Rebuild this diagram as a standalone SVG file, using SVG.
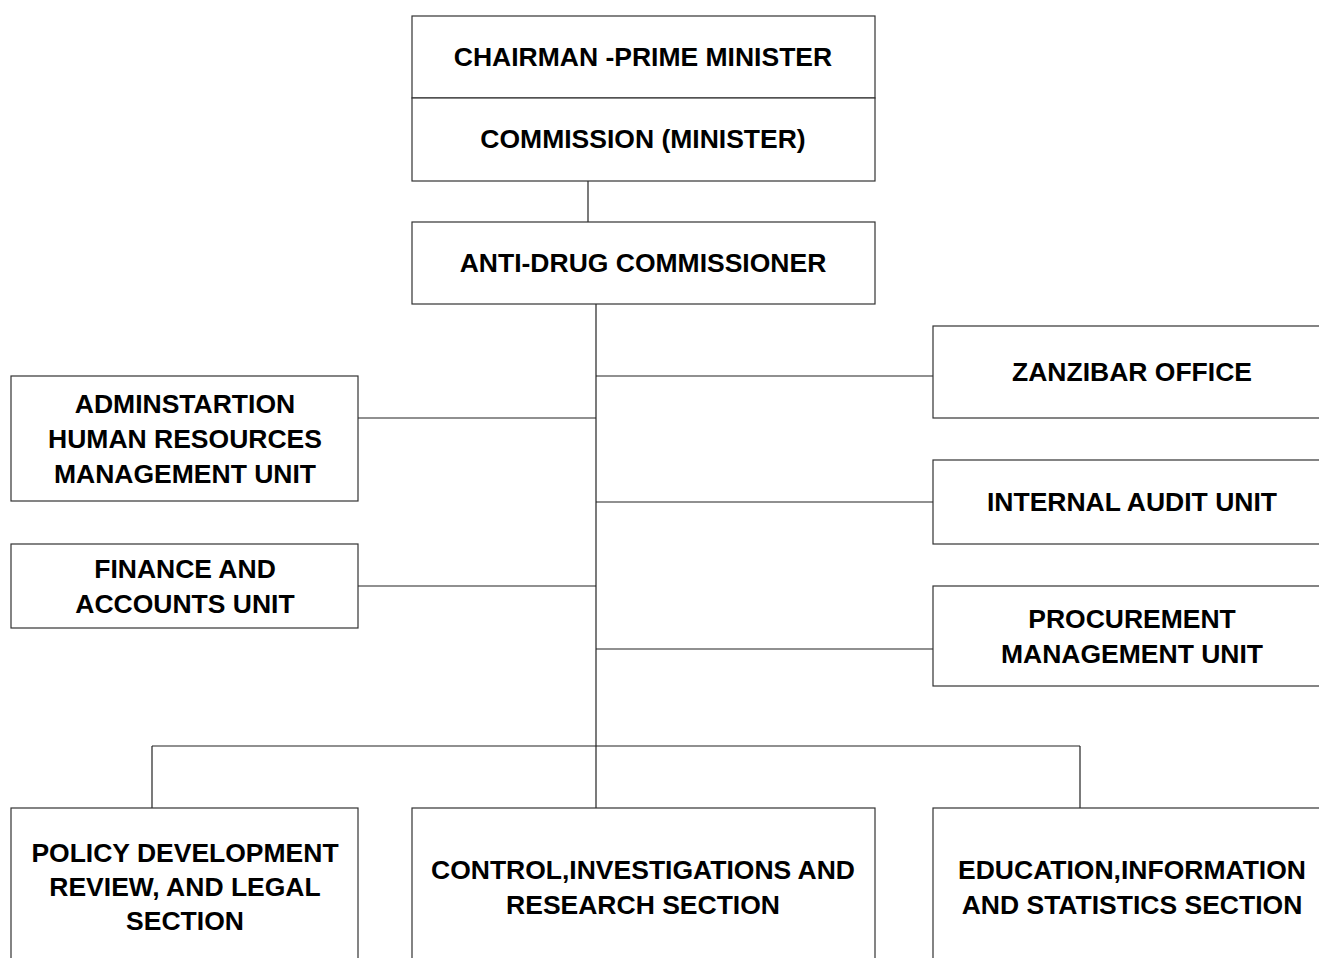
<svg xmlns="http://www.w3.org/2000/svg" width="1319" height="958" viewBox="0 0 1319 958">
<style>
.box{fill:#fff;stroke:#333;stroke-width:1.2}
.ln{stroke:#222;stroke-width:1.2;fill:none}
text{font-family:"Liberation Sans",Arial,sans-serif;font-weight:bold;font-size:26.5px;fill:#000;text-anchor:middle}
</style>
<rect width="1319" height="958" fill="#fff"/>
<g id="connectors">
<line class="ln" x1="588" y1="181" x2="588" y2="222"/>
<line class="ln" x1="596" y1="304" x2="596" y2="808"/>
<line class="ln" x1="596" y1="376" x2="933" y2="376"/>
<line class="ln" x1="596" y1="502" x2="933" y2="502"/>
<line class="ln" x1="596" y1="649" x2="933" y2="649"/>
<line class="ln" x1="358" y1="418" x2="596" y2="418"/>
<line class="ln" x1="358" y1="586" x2="596" y2="586"/>
<line class="ln" x1="152" y1="746" x2="1080" y2="746"/>
<line class="ln" x1="152" y1="746" x2="152" y2="808"/>
<line class="ln" x1="1080" y1="746" x2="1080" y2="808"/>
</g>
<g id="chairman">
<rect class="box" x="412" y="16" width="463" height="82"/>
<text x="643" y="65.5">CHAIRMAN -PRIME MINISTER</text>
</g>
<g id="commission">
<rect class="box" x="412" y="98" width="463" height="83"/>
<text x="643" y="147.5">COMMISSION (MINISTER)</text>
</g>
<g id="commissioner">
<rect class="box" x="412" y="222" width="463" height="82"/>
<text x="643" y="271.5">ANTI-DRUG COMMISSIONER</text>
</g>
<g id="zanzibar">
<rect class="box" x="933" y="326" width="400" height="92"/>
<text x="1132" y="380.5">ZANZIBAR OFFICE</text>
</g>
<g id="audit">
<rect class="box" x="933" y="460" width="400" height="84"/>
<text x="1132" y="510.5">INTERNAL AUDIT UNIT</text>
</g>
<g id="procurement">
<rect class="box" x="933" y="586" width="400" height="100"/>
<text x="1132" y="627.5">PROCUREMENT</text>
<text x="1132" y="662.5">MANAGEMENT UNIT</text>
</g>
<g id="admin">
<rect class="box" x="11" y="376" width="347" height="125"/>
<text x="185" y="412.5">ADMINSTARTION</text>
<text x="185" y="447.5">HUMAN RESOURCES</text>
<text x="185" y="482.5">MANAGEMENT UNIT</text>
</g>
<g id="finance">
<rect class="box" x="11" y="544" width="347" height="84"/>
<text x="185" y="577.5">FINANCE AND</text>
<text x="185" y="612.5">ACCOUNTS UNIT</text>
</g>
<g id="policy">
<rect class="box" x="11" y="808" width="347" height="170"/>
<text x="185" y="861.5">POLICY DEVELOPMENT</text>
<text x="185" y="895.5">REVIEW, AND LEGAL</text>
<text x="185" y="929.5">SECTION</text>
</g>
<g id="control">
<rect class="box" x="412" y="808" width="463" height="170"/>
<text x="643" y="878.5">CONTROL,INVESTIGATIONS AND</text>
<text x="643" y="913.5">RESEARCH SECTION</text>
</g>
<g id="education">
<rect class="box" x="933" y="808" width="400" height="170"/>
<text x="1132" y="878.5">EDUCATION,INFORMATION</text>
<text x="1132" y="913.5">AND STATISTICS SECTION</text>
</g>
</svg>
